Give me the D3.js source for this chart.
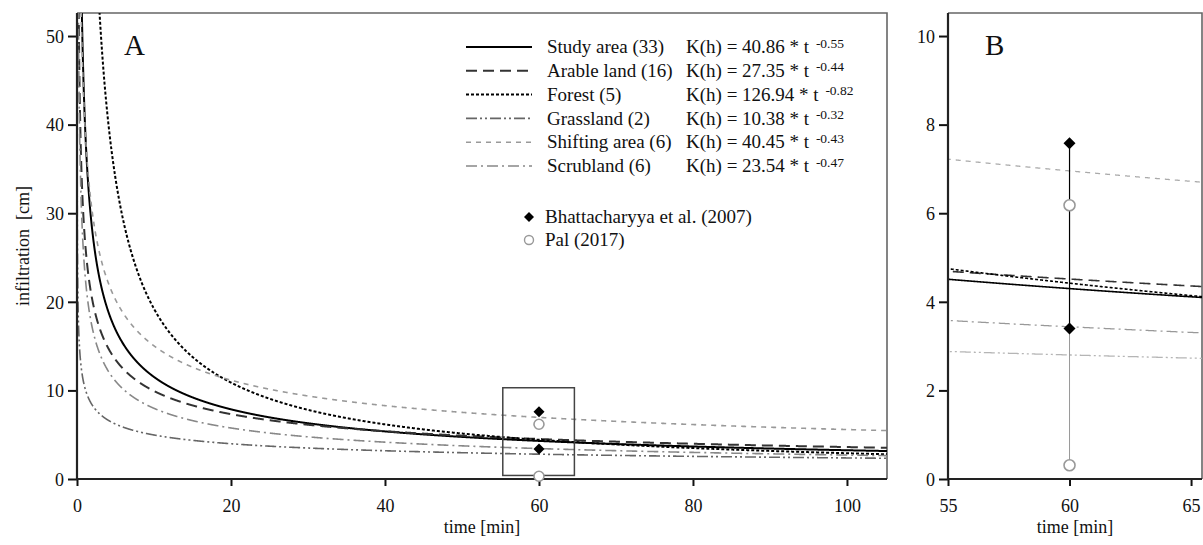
<!DOCTYPE html>
<html>
<head>
<meta charset="utf-8">
<script src="https://cdn.jsdelivr.net/npm/d3@7"></script>
<style>
  body { margin: 0; background: #fff; }
  svg { display: block; }
</style>
</head>
<body>
<svg id="chart" width="1203" height="545"></svg>
<script>
// Infiltration fits K(h) = a * t^b per land-use class (number of measurements in brackets)
const landUses   = ["Study area (33)", "Arable land (16)", "Forest (5)", "Grassland (2)", "Shifting area (6)", "Scrubland (6)"];
const coefA      = [40.86, 27.35, 126.94, 10.38, 40.45, 23.54];
const expB       = [-0.55, -0.44, -0.82, -0.32, -0.43, -0.47];
const coefLabels = ["40.86", "27.35", "126.94", "10.38", "40.45", "23.54"];
const expLabels  = ["-0.55", "-0.44", "-0.82", "-0.32", "-0.43", "-0.47"];

// Literature values at 60 min
const obsTime       = 60;
const bhattacharyya = [7.58, 3.40];
const pal           = [6.18, 0.31];
const refLabels     = ["Bhattacharyya et al. (2007)", "Pal (2017)"];

// Tick values
const ticksAx = [0, 20, 40, 60, 80, 100];
const ticksAy = [0, 10, 20, 30, 40, 50];
const ticksBx = [55, 60, 65];
const ticksBy = [0, 2, 4, 6, 8, 10];

const SERIF = '"Liberation Serif", "Times New Roman", Times, serif';

// Line styles per class (detail panel uses lighter greys)
const styles = [
  { color: "#000", light: "#000", width: 2,   dash: null },
  { color: "#333", light: "#333", width: 2,   dash: "11,6" },
  { color: "#000", light: "#000", width: 2,   dash: "3,2" },
  { color: "#666", light: "#b5b5b5", width: 1.6, dash: "11,3,2,3,2,3" },
  { color: "#999", light: "#aaa", width: 1.6, dash: "5,5" },
  { color: "#888", light: "#999", width: 1.6, dash: "11,4,2,4" }
];

const svg = d3.select("#chart");
const times = d3.range(0.02, 106, 0.02);

function addText(g, x, y, txt, size) {
  return g.append("text").attr("x", x).attr("y", y)
    .style("font-family", SERIF).style("font-size", size + "px").attr("fill", "#111").text(txt);
}

function panel(opts) {
  const { id, x, y, xTicks, yTicks, label, labelX, lineScale, detail } = opts;
  const g = svg.append("g");
  const [x0, x1] = x.range(), [y0, y1] = y.range();

  g.append("clipPath").attr("id", id).append("rect")
    .attr("x", x0).attr("y", y1).attr("width", x1 - x0).attr("height", y0 - y1);

  // frame: lighter top/right edges
  g.append("path").attr("d", `M${x0},${y1}H${x1}V${y0}`)
    .attr("fill", "none").attr("stroke", "#666").attr("stroke-width", 1.6);

  const curves = g.append("g").attr("clip-path", `url(#${id})`);
  const line = d3.line().x(d => x(d[0])).y(d => y(d[1]));
  coefA.forEach((a, i) => {
    const pts = times.filter(t => t >= x.domain()[0] - 0.5 && t <= x.domain()[1] + 0.5)
      .map(t => [t, a * Math.pow(t, expB[i])]);
    curves.append("path").attr("d", line(pts))
      .attr("fill", "none")
      .attr("stroke", detail ? styles[i].light : styles[i].color)
      .attr("stroke-width", styles[i].width * lineScale)
      .attr("stroke-dasharray", styles[i].dash);
  });

  // axes
  const ax = g.append("g").attr("transform", `translate(0,${y0})`)
    .call(d3.axisBottom(x).tickValues(xTicks).tickSize(7).tickPadding(13).tickFormat(d3.format("d")));
  const ay = g.append("g").attr("transform", `translate(${x0},0)`)
    .call(d3.axisLeft(y).tickValues(yTicks).tickSize(9).tickPadding(4).tickFormat(d3.format("d")));
  [ax, ay].forEach(a => {
    a.attr("font-family", null).attr("font-size", null);
    a.select(".domain").remove();
    a.selectAll(".tick line").attr("stroke", "#111").attr("stroke-width", 2);
    a.selectAll(".tick text").style("font-family", SERIF).style("font-size", "18px").attr("fill", "#111");
  });
  ay.selectAll(".tick text").attr("dy", "0.35em");

  g.append("path").attr("d", `M${x0},${y1}V${y0}H${x1}`)
    .attr("fill", "none").attr("stroke", "#222").attr("stroke-width", 2.2);

  addText(g, (x0 + x1) / 2, 533, "time [min]", 18).attr("text-anchor", "middle");
  addText(g, labelX, 55, label, 29);

  return g;
}

// ---- Panel A: full time range
const xA = d3.scaleLinear().domain([0, 105.2]).range([77, 887]);
const yA = d3.scaleLinear().domain([0, 52.6]).range([479, 13]);
const gA = panel({ id: "clipA", x: xA, y: yA, xTicks: ticksAx, yTicks: ticksAy, label: "A", labelX: 124, lineScale: 1, detail: false });

addText(gA, 0, 0, "infiltration  [cm]", 18)
  .attr("transform", `translate(29,${(13 + 479) / 2}) rotate(-90)`)
  .attr("text-anchor", "middle").style("white-space", "pre");

// zoom window outline around the 60 min observations
const zoomT = [55.3, 64.6], zoomK = [0.4, 10.3];
gA.append("rect")
  .attr("x", xA(zoomT[0])).attr("y", yA(zoomK[1]))
  .attr("width", xA(zoomT[1]) - xA(zoomT[0])).attr("height", yA(zoomK[0]) - yA(zoomK[1]))
  .attr("fill", "none").attr("stroke", "#444").attr("stroke-width", 1.5);

// rotated square marker
function diamondAt(g, cx, cy, half) {
  return g.append("path")
    .attr("d", `M${cx},${cy - half}L${cx + half},${cy}L${cx},${cy + half}L${cx - half},${cy}Z`)
    .attr("fill", "#000");
}
function refMarks(g, x, y, half, r) {
  pal.forEach(v => g.append("circle").attr("cx", x(obsTime)).attr("cy", y(v)).attr("r", r)
    .attr("fill", "#fff").attr("stroke", "#999").attr("stroke-width", 1.6));
  bhattacharyya.forEach(v => diamondAt(g, x(obsTime), y(v), half));
}
refMarks(gA, xA, yA, 5.5, 5);

// legend
const lg = gA.append("g");
const rowY = i => 47 + i * 23.8;
landUses.forEach((name, i) => {
  lg.append("line").attr("x1", 466).attr("x2", 532).attr("y1", rowY(i)).attr("y2", rowY(i))
    .attr("stroke", styles[i].color).attr("stroke-width", styles[i].width)
    .attr("stroke-dasharray", styles[i].dash);
  addText(lg, 547, rowY(i), name, 19).attr("dy", "0.33em");
  const eq = addText(lg, 686, rowY(i), null, 19).attr("dy", "0.33em");
  eq.append("tspan").text(`K(h) = ${coefLabels[i]} * t `);
  eq.append("tspan").attr("dx", 2).attr("dy", "-0.42em").style("font-size", "13.5px").text(expLabels[i]);
});
diamondAt(lg, 529, 217, 5);
addText(lg, 545, 217, refLabels[0], 19).attr("dy", "0.33em");
lg.append("circle").attr("cx", 529).attr("cy", 240).attr("r", 4.5)
  .attr("fill", "#fff").attr("stroke", "#999").attr("stroke-width", 1.4);
addText(lg, 545, 240, refLabels[1], 19).attr("dy", "0.33em");

// ---- Panel B: detail around 60 min
const xB = d3.scaleLinear().domain([55, 65.45]).range([948, 1202]);
const yB = d3.scaleLinear().domain([0, 10.52]).range([479, 13]);
const gB = panel({ id: "clipB", x: xB, y: yB, xTicks: ticksBx, yTicks: ticksBy, label: "B", labelX: 985, lineScale: 0.8, detail: true });

// ranges of the literature values
gB.append("line").attr("x1", xB(obsTime)).attr("x2", xB(obsTime))
  .attr("y1", yB(pal[0])).attr("y2", yB(pal[1])).attr("stroke", "#999").attr("stroke-width", 1);
gB.append("line").attr("x1", xB(obsTime)).attr("x2", xB(obsTime))
  .attr("y1", yB(bhattacharyya[0])).attr("y2", yB(bhattacharyya[1])).attr("stroke", "#000").attr("stroke-width", 1.2);
refMarks(gB, xB, yB, 6, 5.5);
</script>
</body>
</html>
